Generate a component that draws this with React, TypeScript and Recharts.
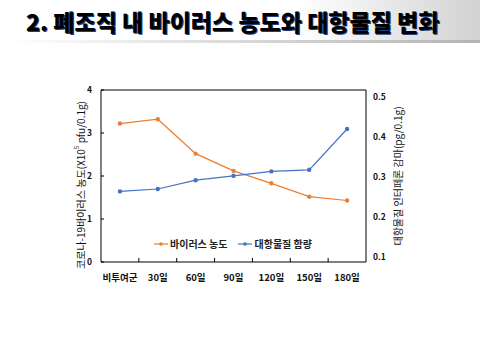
import { LineChart, Line, XAxis, YAxis, ReferenceLine } from 'recharts'

const categories = ['비투여군', '30일', '60일', '90일', '120일', '150일', '180일']
const virusLevel = [3.22, 3.32, 2.52, 2.12, 1.83, 1.52, 1.43]
const drugLevel = [0.264, 0.27, 0.292, 0.303, 0.314, 0.318, 0.42]
const leftTicks = [0, 1, 2, 3, 4]
const rightTicks = [0.1, 0.2, 0.3, 0.4, 0.5]
const boundaryTicks = [1, 2, 3, 4, 5, 6]

const data = categories.map((name, i) => ({
  x: i + 0.5,
  name,
  virus: virusLevel[i],
  drug: drugLevel[i],
}))

const xTicks = [...categories.map((_, i) => i + 0.5), ...boundaryTicks].sort((a, b) => a - b)

const ORANGE = '#ED7D31'
const BLUE = '#4472C4'
const FONT = '"Noto Sans CJK KR", "Noto Sans", sans-serif'

function XTick({ x, y, payload }: any) {
  const v = payload.value
  if (Number.isInteger(v)) {
    return <line x1={x} x2={x} y1={y} y2={y - 4} stroke="#000" />
  }
  return (
    <text x={x} y={y + 19} textAnchor="middle" fontSize={9.5} fontWeight={700} fill="#111" fontFamily={FONT}>
      {categories[Math.floor(v)]}
    </text>
  )
}

function LeftLabel({ viewBox }: any) {
  const cx = viewBox.x + 9
  const cy = viewBox.y + viewBox.height / 2 + 9
  return (
    <text
      x={cx}
      y={cy}
      transform={`rotate(-90, ${cx}, ${cy})`}
      textAnchor="middle"
      dominantBaseline="central"
      fontSize={10}
      fill="#111"
      fontFamily={FONT}
    >
      코로나-19바이러스 농도(X10
      <tspan fontSize={6.5} dy={-4}>5</tspan>
      <tspan dy={4}> pfu/0.1g)</tspan>
    </text>
  )
}

function RightLabel({ viewBox }: any) {
  const cx = viewBox.x + 31
  const cy = viewBox.y + viewBox.height / 2
  return (
    <text
      x={cx}
      y={cy}
      transform={`rotate(-90, ${cx}, ${cy})`}
      textAnchor="middle"
      dominantBaseline="central"
      fontSize={10}
      fill="#111"
      fontFamily={FONT}
    >
      대항물질 인터페론 감마(pg/0.1g)
    </text>
  )
}

function LegendBox() {
  const items = [
    { label: '바이러스 농도', color: ORANGE },
    { label: '대항물질 함량', color: BLUE },
  ]
  return (
    <div style={{ display: 'flex', gap: 11, fontFamily: FONT, fontSize: 10, fontWeight: 700, color: '#222' }}>
      {items.map((it) => (
        <div key={it.label} style={{ display: 'flex', alignItems: 'center', gap: 2 }}>
          <svg width={14} height={6}>
            <line x1={0} x2={14} y1={3} y2={3} stroke={it.color} strokeWidth={1.2} />
            <circle cx={7} cy={3} r={1.8} fill={it.color} />
          </svg>
          <span>{it.label}</span>
        </div>
      ))}
    </div>
  )
}

export default function App() {
  return (
    <div style={{ position: 'fixed', left: 0, top: 0, width: 480, height: 360, background: '#fff', overflow: 'hidden' }}>
      <div
        style={{
          position: 'absolute',
          left: 0,
          top: 0,
          width: 480,
          height: 41,
          background: 'linear-gradient(to right, #fff 0%, #fff 62%, #d2d2d2 100%)',
        }}
      />
      <div
        style={{
          position: 'absolute',
          left: 8,
          top: 40,
          width: 472,
          height: 3,
          background: 'linear-gradient(to right, #fff 0%, #e0e0e0 40%, #b4b4b4 100%)',
        }}
      />
      <div
        style={{
          position: 'absolute',
          left: 26,
          top: 4,
          fontFamily: FONT,
          fontSize: 23,
          fontWeight: 900,
          color: '#000',
          whiteSpace: 'nowrap',
          textShadow: '1px 1px 0 #1d3f7a',
        }}
      >
        2. 폐조직 내 바이러스 농도와 대항물질 변화
      </div>
      <div style={{ position: 'absolute', left: 0, top: 0 }}>
        <LineChart width={480} height={360} data={data} margin={{ top: 90, right: 84, bottom: 68, left: 71 }}>
          <XAxis
            dataKey="x"
            type="number"
            domain={[0, 7]}
            ticks={xTicks}
            interval={0}
            tick={<XTick />}
            tickLine={false}
            tickSize={0}
            tickMargin={0}
            height={30}
            axisLine={{ stroke: '#000' }}
          />
          <YAxis
            yAxisId="left"
            domain={[0, 4]}
            ticks={leftTicks}
            width={30}
            axisLine={{ stroke: '#000' }}
            tickLine={{ stroke: '#000' }}
            tickSize={-3}
            tickMargin={12}
            tick={{ fontSize: 8.5, fontWeight: 700, fill: '#111', fontFamily: FONT }}
            label={<LeftLabel />}
          />
          <YAxis
            yAxisId="right"
            orientation="right"
            domain={[0.0875, 0.5175]}
            ticks={rightTicks}
            allowDataOverflow
            width={30}
            axisLine={{ stroke: '#000' }}
            tickLine={false}
            tickSize={0}
            tickMargin={7}
            tickFormatter={(v: number) => v.toFixed(1)}
            tick={{ fontSize: 8.5, fontWeight: 700, fill: '#111', fontFamily: FONT }}
            label={<RightLabel />}
          />
          <ReferenceLine yAxisId="left" y={4} stroke="#000" />
          <Line
            yAxisId="left"
            dataKey="virus"
            stroke={ORANGE}
            strokeWidth={1.2}
            dot={{ r: 1.6, fill: ORANGE, stroke: ORANGE }}
            isAnimationActive={false}
          />
          <Line
            yAxisId="right"
            dataKey="drug"
            stroke={BLUE}
            strokeWidth={1.2}
            dot={{ r: 1.6, fill: BLUE, stroke: BLUE }}
            isAnimationActive={false}
          />
        </LineChart>
      </div>
      <div style={{ position: 'absolute', left: 154, top: 236 }}>
        <LegendBox />
      </div>
    </div>
  )
}
